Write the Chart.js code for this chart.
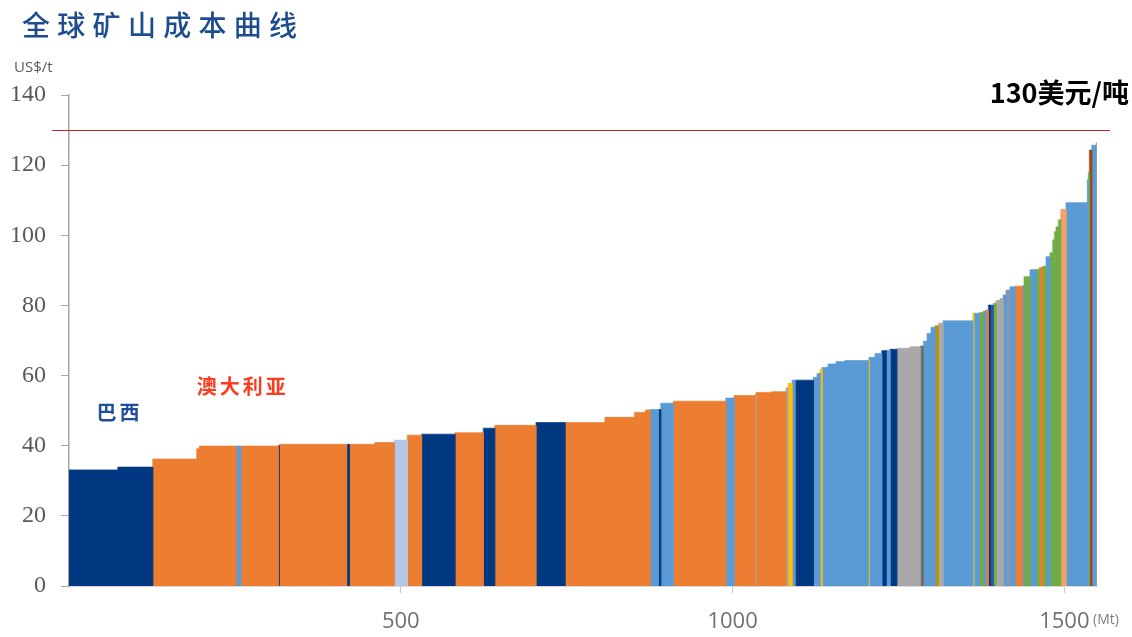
<!DOCTYPE html>
<html>
<head>
<meta charset="utf-8">
<script src="https://cdn.jsdelivr.net/npm/chart.js@4/dist/chart.umd.min.js"></script>
<style>
  html, body { margin: 0; padding: 0; background: #ffffff; }
  #wrap { position: relative; width: 1132px; height: 637px; }
</style>
</head>
<body>
<div id="wrap"><canvas id="c" width="1132" height="637"></canvas></div>
<script>
// ---- data ----
// region code of each mine, in cost order
const mineRegions = [
  'BR','BR','AU','AU','AU','LB','AU','BR','AU','BR',
  'AU','AU','LV','AU','BR','AU','BR','AU','BR','AU',
  'AU','AU','AU','LB','BR','LB','AU','LB','AU','GR',
  'AU','AU','GR','YL','LB','BR','LB','LB','YL','LB',
  'LB','LB','LB','YL','LB','LB','BR','LB','BR','GR',
  'GR','DG','LB','LB','LB','GD','GR','LB','YL','LB',
  'GN','LB','AU','BR','DB','GN','GR','GR','LB','PU',
  'LB','AU','LB','GN','LB','GN','AU','GN','LB','GN',
  'GN','GN','GN','GN','LO','LB','LB','GN','BN','LB',
  'LO'
];
// production capacity of each mine (Mt)
const mineCapacity = [
  73.4, 52.7, 66.3, 3.9, 55.3, 7.5, 56.2, 1.5, 101.6, 4.2,
  38.4, 29.1, 19.6, 21.7, 50.2, 42.7, 17.2, 62.2, 43.7, 60.3,
  44.2, 16.6, 7.1, 12.5, 3.6, 19.0, 79.0, 12.5, 31.6, 1.5,
  23.7, 21.6, 3.0, 6.0, 4.5, 27.6, 5.6, 4.5, 3.0, 9.0,
  12.1, 13.6, 34.7, 1.5, 9.0, 10.1, 6.5, 6.0, 10.1, 20.0,
  15.1, 5.0, 5.6, 6.0, 6.0, 5.0, 7.1, 44.8, 1.5, 8.4,
  6.0, 3.6, 3.9, 2.6, 5.0, 4.1, 6.0, 4.5, 4.5, 6.0,
  7.5, 11.3, 2.3, 9.0, 9.0, 5.0, 5.1, 5.0, 6.0, 4.1,
  2.4, 2.6, 3.5, 3.6, 8.0, 32.1, 1.5, 1.5, 3.6, 6.5,
  1.5
];
// cash cost of each mine (US$/t)
const mineCost = [
  33.1, 33.9, 36.2, 39.1, 39.9, 39.9, 39.9, 40.0, 40.4, 40.4,
  40.4, 40.9, 41.6, 43.0, 43.3, 43.7, 45.0, 45.8, 46.6, 46.6,
  48.1, 49.5, 50.2, 50.3, 50.3, 52.1, 52.7, 53.6, 54.3, 54.5,
  55.2, 55.4, 56.5, 57.8, 58.7, 58.7, 59.5, 60.6, 61.8, 62.3,
  63.3, 64.0, 64.3, 64.6, 65.2, 66.3, 67.1, 67.2, 67.5, 67.8,
  68.2, 68.4, 69.8, 72.0, 73.8, 74.2, 74.9, 75.6, 77.8, 77.8,
  78.0, 78.4, 78.7, 80.1, 80.1, 80.6, 81.4, 82.0, 83.0, 84.4,
  85.3, 85.5, 85.6, 88.2, 90.2, 90.3, 90.8, 91.2, 93.9, 95.0,
  98.7, 101.0, 102.4, 104.4, 107.4, 109.3, 115.8, 118.0, 124.3, 125.7,
  126.4
];
const xTickValues = [500, 1000, 1500];
const yTickValues = [0, 20, 40, 60, 80, 100, 120, 140];
const priceLine = 130;
const priceLabel = '130美元/吨';
const chartTitle = '全球矿山成本曲线';
const yUnit = 'US$/t';
const xUnit = '(Mt)';
const regionLabels = [
  { text: '巴西', region: 'BR' },
  { text: '澳大利亚', region: 'AU' }
];

// ---- styles ----
const regionColors = {
  BR: '#003882', AU: '#ed7d31', LB: '#5b9bd5', LV: '#b4c7e7', YL: '#ffc000',
  GR: '#a9a9a9', DG: '#6f6f6f', GD: '#bf9000', GN: '#70ad47', DB: '#2f5597',
  PU: '#8497b0', LO: '#f4a267', BN: '#9e480e'
};
const labelStyles = {
  BR: { color: '#1f4e9c', x: 76, y: 49.6 },
  AU: { color: '#ff3b1f', x: 262, y: 57.0 }
};

// ---- build datasets: one block per mine ----
const datasets = [];
let cum = 0;
for (let i = 0; i < mineCost.length; i++) {
  const x0 = cum, x1 = cum + mineCapacity[i];
  cum = x1;
  const col = regionColors[mineRegions[i]];
  datasets.push({
    data: [{ x: x0, y: 0 }, { x: x0, y: mineCost[i] }, { x: x1, y: mineCost[i] }, { x: x1, y: 0 }],
    backgroundColor: col,
    borderColor: col,
    borderWidth: 0.7,
    pointRadius: 0,
    fill: 'origin',
    tension: 0
  });
}
const totalCapacity = cum;

const annotate = {
  id: 'annotate',
  afterDatasetsDraw(chart) {
    const { ctx, chartArea, scales } = chart;
    const xs = scales.x, ys = scales.y;
    ctx.save();
    // price threshold line
    const yp = Math.round(ys.getPixelForValue(priceLine)) + 0.5;
    ctx.strokeStyle = '#c0282a';
    ctx.lineWidth = 1.2;
    ctx.beginPath();
    ctx.moveTo(chartArea.left - 17, yp);
    ctx.lineTo(chartArea.right + 13, yp);
    ctx.stroke();
    // price label
    ctx.fillStyle = '#000000';
    ctx.font = 'bold 27px "Noto Sans CJK SC", "Noto Sans", sans-serif';
    ctx.textAlign = 'right';
    ctx.textBaseline = 'middle';
    ctx.fillText(priceLabel, 1129, 93);
    // region labels
    ctx.textAlign = 'center';
    regionLabels.forEach(l => {
      const s = labelStyles[l.region];
      ctx.fillStyle = s.color;
      ctx.font = 'bold 20px "Noto Sans CJK SC", sans-serif';
      ctx.letterSpacing = '3px';
      ctx.fillText(l.text, xs.getPixelForValue(s.x), ys.getPixelForValue(s.y));
    });
    ctx.letterSpacing = '0px';
    // title
    ctx.textAlign = 'left';
    ctx.fillStyle = '#1d4d8f';
    ctx.font = '500 28px "Noto Sans CJK SC", sans-serif';
    ctx.letterSpacing = '7.3px';
    ctx.fillText(chartTitle, 22, 25);
    ctx.letterSpacing = '0px';
    // units
    ctx.fillStyle = '#595959';
    ctx.font = '15px "Open Sans", sans-serif';
    ctx.fillText(yUnit, 14, 68);
    ctx.fillStyle = '#7f7f7f';
    ctx.font = '14px "Open Sans", sans-serif';
    ctx.fillText(xUnit, 1093, 620);
    ctx.restore();
  }
};

new Chart(document.getElementById('c'), {
  type: 'line',
  data: { datasets },
  options: {
    responsive: false,
    animation: false,
    events: [],
    layout: { padding: { top: 95, right: 35, left: 0, bottom: 0 } },
    plugins: { legend: { display: false }, tooltip: { enabled: false }, title: { display: false } },
    scales: {
      x: {
        type: 'linear',
        min: 0,
        max: totalCapacity,
        afterFit(s) { s.height = 51; },
        afterBuildTicks(s) { s.ticks = xTickValues.map(v => ({ value: v })); },
        grid: { drawOnChartArea: false, drawTicks: true, tickLength: 7, color: '#c8c8c8' },
        border: { display: true, color: '#d9d9d9', width: 1 },
        ticks: {
          color: '#707070',
          font: { family: '"Open Sans", sans-serif', size: 22 },
          padding: 16,
          maxRotation: 0,
          autoSkip: false,
          callback: v => String(v)
        }
      },
      y: {
        min: 0,
        max: 140,
        afterFit(s) { s.width = 69; },
        afterBuildTicks(s) { s.ticks = yTickValues.map(v => ({ value: v })); },
        grid: { drawOnChartArea: false, drawTicks: true, tickLength: 8, color: '#a6a6a6' },
        border: { display: true, color: '#a6a6a6', width: 1.5 },
        ticks: {
          color: '#595959',
          font: { family: '"Liberation Serif", serif', size: 24 },
          padding: 15,
          autoSkip: false,
          callback: v => String(v)
        }
      }
    }
  },
  plugins: [annotate]
});
</script>
</body>
</html>
